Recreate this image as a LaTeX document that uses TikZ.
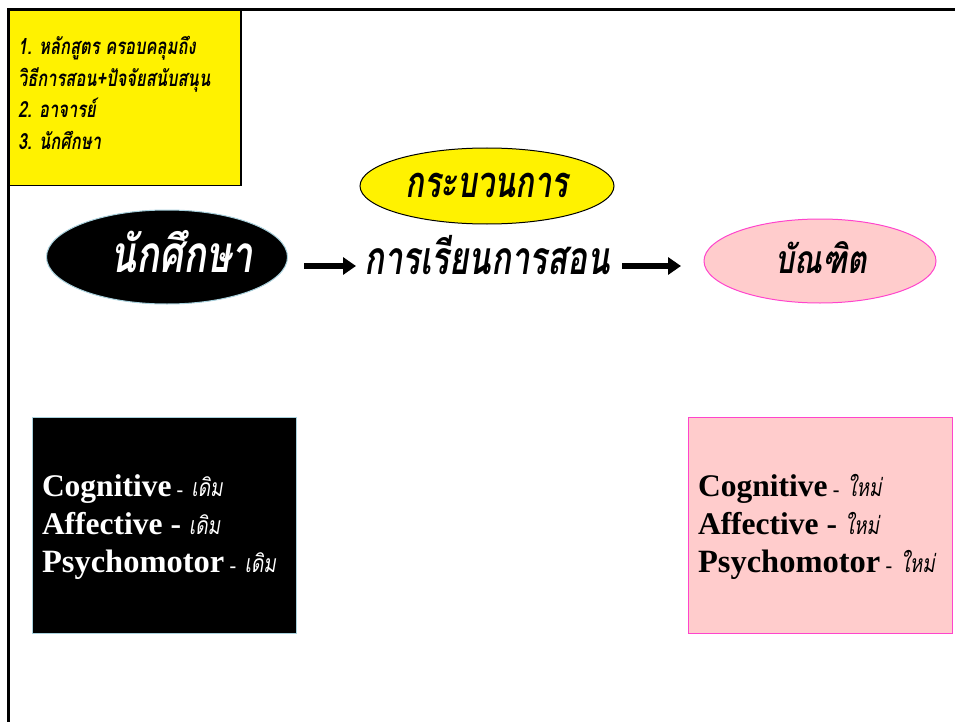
\documentclass[tikz,border=0pt]{standalone}
\usepackage{graphicx}
\usepackage{fontspec}
\setmainfont{Liberation Serif}
\newfontfamily\thaifont[Script=Thai]{Loma}
\usetikzlibrary{arrows.meta,shapes.geometric}
\definecolor{pinkfill}{HTML}{FFCCCC}
\definecolor{pinkline}{HTML}{FF44CC}
\definecolor{paleblue}{HTML}{A8D0DC}
\newcommand{\tall}[2]{\scalebox{1}[#1]{#2}}
\tikzset{
  lbl/.style={anchor=base west, inner sep=0, outer sep=0},
  fatarrow/.style={line width=6, -{Triangle[length=13, width=17]}},
  oval/.style={ellipse, inner sep=0},
  reqtext/.style={lbl, font=\thaifont\bfseries\itshape\fontsize{16.5}{16.5}\selectfont},
}
\begin{document}
\begin{tikzpicture}[x=1pt, y=-1pt]
\useasboundingbox (0,0) rectangle (955,722);
% frame
\draw[line width=3] (8,722) -- (8,10) -- (955,10);
% yellow box
\node[draw, fill=yellow, line width=1.5, minimum width=232, minimum height=175, anchor=north west, inner sep=0] (req) at (8,10) {};
\node[reqtext] (r1) at (18,55) {\tall{1.35}{1. หลักสูตร ครอบคลุมถึง}};
\node[reqtext] (r2) at (18,87) {\tall{1.35}{วิธีการสอน+ปัจจัยสนับสนุน}};
\node[reqtext] (r3) at (18,118) {\tall{1.35}{2. อาจารย์}};
\node[reqtext] (r4) at (18,150) {\tall{1.35}{3. นักศึกษา}};
% process ellipse
\node[oval, draw, fill=yellow, line width=1, minimum width=254, minimum height=76] (proc) at (487,186) {};
\node[lbl, anchor=base, font=\thaifont\bfseries\itshape\fontsize{31}{31}\selectfont] (proct) at (487,197) {\tall{1.4}{กระบวนการ}};
% student ellipse
\node[oval, draw=paleblue, fill=black, line width=1, minimum width=241, minimum height=94] (stu) at (167,257) {};
\node[lbl, anchor=base, text=white, font=\thaifont\bfseries\itshape\fontsize{38}{38}\selectfont] (stut) at (182,272) {\tall{1.35}{นักศึกษา}};
% learning text
\node[lbl, anchor=base, font=\thaifont\bfseries\itshape\fontsize{33}{33}\selectfont] (learn) at (487,274) {\tall{1.4}{การเรียนการสอน}};
% graduate ellipse
\node[oval, draw=pinkline, fill=pinkfill, line width=1, minimum width=232, minimum height=84] (grad) at (820,261) {};
\node[lbl, anchor=base, font=\thaifont\bfseries\itshape\fontsize{30}{30}\selectfont] (gradt) at (821,273) {\tall{1.3}{บัณฑิต}};
% arrows
\coordinate (a1s) at (304,266);
\coordinate (a1e) at (356,266);
\coordinate (a2s) at (622,266);
\coordinate (a2e) at (681,266);
\draw[fatarrow] (a1s) -- (a1e);
\draw[fatarrow] (a2s) -- (a2e);
% before box
\node[draw=paleblue, fill=black, line width=1, minimum width=264, minimum height=216, anchor=north west, inner sep=0] (before) at (32,417) {};
\node[lbl, text=white] (b1) at (42,496) {\fontsize{31.5}{32}\selectfont\bfseries Cognitive\,{\fontsize{20}{20}\selectfont-} \thaifont\fontsize{19}{19}\selectfont\mdseries\itshape\tall{1.3}{เดิม}};
\node[lbl, text=white] (b2) at (42,534) {\fontsize{31.5}{32}\selectfont\bfseries Affective - \thaifont\fontsize{19}{19}\selectfont\mdseries\itshape\tall{1.3}{เดิม}};
\node[lbl, text=white] (b3) at (42,572) {\fontsize{32.5}{32}\selectfont\bfseries Psychomotor\,{\fontsize{20}{20}\selectfont-} \thaifont\fontsize{19}{19}\selectfont\mdseries\itshape\tall{1.3}{เดิม}};
% after box
\node[draw=pinkline, fill=pinkfill, line width=1, minimum width=264, minimum height=216, anchor=north west, inner sep=0] (after) at (688,417) {};
\node[lbl] (c1) at (698,496) {\fontsize{31.5}{32}\selectfont\bfseries Cognitive\,{\fontsize{20}{20}\selectfont-} \thaifont\fontsize{19}{19}\selectfont\mdseries\itshape\tall{1.3}{ใหม่}};
\node[lbl] (c2) at (698,534) {\fontsize{31.5}{32}\selectfont\bfseries Affective - \thaifont\fontsize{19}{19}\selectfont\mdseries\itshape\tall{1.3}{ใหม่}};
\node[lbl] (c3) at (698,572) {\fontsize{32.5}{32}\selectfont\bfseries Psychomotor\,{\fontsize{20}{20}\selectfont-} \thaifont\fontsize{19}{19}\selectfont\mdseries\itshape\tall{1.3}{ใหม่}};
\end{tikzpicture}
\end{document}
